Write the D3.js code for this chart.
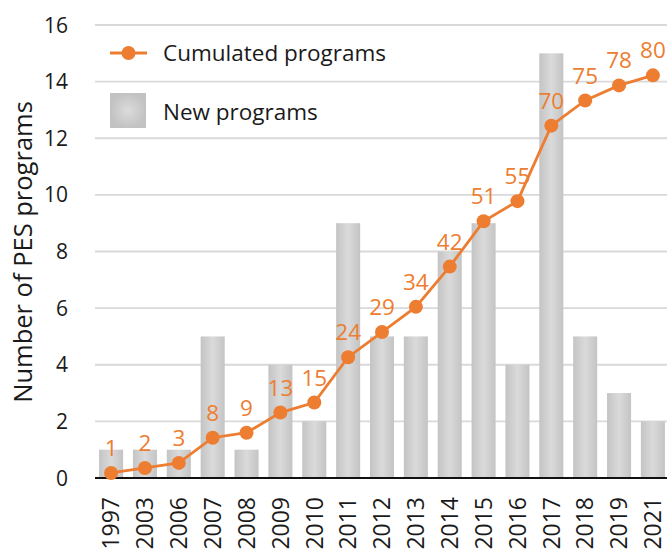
<!DOCTYPE html>
<html>
<head>
<meta charset="utf-8">
<script src="https://cdn.jsdelivr.net/npm/d3@7"></script>
<style>
  body { margin: 0; background: #fff; }
  svg { display: block; font-family: "Open Sans", "Noto Sans", sans-serif; }
</style>
</head>
<body>
<div id="chart"></div>
<script>
// Years on the x axis
const years = ["1997", "2003", "2006", "2007", "2008", "2009", "2010", "2011", "2012",
  "2013", "2014", "2015", "2016", "2017", "2018", "2019", "2021"];
// New programs per year (bars)
const newPrograms = [1, 1, 1, 5, 1, 4, 2, 9, 5, 5, 8, 9, 4, 15, 5, 3, 2];
// Cumulated programs (line, labelled)
const cumulated = [1, 2, 3, 8, 9, 13, 15, 24, 29, 34, 42, 51, 55, 70, 75, 78, 80];
const yTicks = [0, 2, 4, 6, 8, 10, 12, 14, 16];

const width = 667, height = 552;
const margin = { top: 25, right: -2, bottom: 74, left: 95 };
const orange = "#ed7d31";

const svg = d3.select("#chart").append("svg")
  .attr("width", width)
  .attr("height", height);

// gradient for bars
const defs = svg.append("defs");
const grad = defs.append("linearGradient").attr("id", "barGrad")
  .attr("x1", "0%").attr("x2", "100%").attr("y1", "0%").attr("y2", "0%");
grad.append("stop").attr("offset", "0%").attr("stop-color", "#c4c4c4");
grad.append("stop").attr("offset", "50%").attr("stop-color", "#dadada");
grad.append("stop").attr("offset", "100%").attr("stop-color", "#c4c4c4");
const rgrad = defs.append("radialGradient").attr("id", "legGrad");
rgrad.append("stop").attr("offset", "0%").attr("stop-color", "#dcdcdc");
rgrad.append("stop").attr("offset", "100%").attr("stop-color", "#c2c2c2");

const x = d3.scaleBand()
  .domain(years)
  .range([margin.left, width - margin.right])
  .paddingInner(0.29)
  .paddingOuter(0.12);

const y = d3.scaleLinear().domain([0, 16]).range([height - margin.bottom, margin.top]);
// secondary (hidden) scale for the cumulated line
const y2 = d3.scaleLinear().domain([0, 90]).range(y.range());

// gridlines
svg.append("g")
  .selectAll("line")
  .data(yTicks.slice(1))
  .join("line")
  .attr("x1", margin.left).attr("x2", width)
  .attr("y1", d => y(d)).attr("y2", d => y(d))
  .attr("stroke", "#d9d9d9")
  .attr("stroke-width", 1.8);

// bars
svg.append("g")
  .selectAll("rect")
  .data(newPrograms)
  .join("rect")
  .attr("x", (d, i) => x(years[i]))
  .attr("y", d => y(d))
  .attr("width", x.bandwidth())
  .attr("height", d => y(0) - y(d))
  .attr("fill", "url(#barGrad)");

// x axis baseline
svg.append("line")
  .attr("x1", margin.left).attr("x2", width)
  .attr("y1", y(0)).attr("y2", y(0))
  .attr("stroke", "#111")
  .attr("stroke-width", 2);

// y tick labels
svg.append("g")
  .selectAll("text")
  .data(yTicks)
  .join("text")
  .attr("x", 68)
  .attr("y", d => y(d))
  .attr("dy", "0.36em")
  .attr("text-anchor", "end")
  .attr("font-size", 21)
  .attr("fill", "#1a1a1a")
  .text(d => d);

// x tick labels (rotated)
svg.append("g")
  .selectAll("text")
  .data(years)
  .join("text")
  .attr("transform", d => `translate(${x(d) + x.bandwidth() / 2},${y(0) + 19}) rotate(-90)`)
  .attr("dy", "0.36em")
  .attr("text-anchor", "end")
  .attr("font-size", 23)
  .attr("fill", "#1a1a1a")
  .text(d => d);

// y axis title
svg.append("text")
  .attr("transform", "translate(23,252) rotate(-90)")
  .attr("dy", "0.36em")
  .attr("text-anchor", "middle")
  .attr("font-size", 25.5)
  .attr("fill", "#1a1a1a")
  .text("Number of PES programs");

// cumulated line
const cx = (d, i) => x(years[i]) + x.bandwidth() / 2;
const line = d3.line().x(cx).y(d => y2(d));
svg.append("path")
  .datum(cumulated)
  .attr("d", line)
  .attr("fill", "none")
  .attr("stroke", orange)
  .attr("stroke-width", 2.8);

svg.append("g")
  .selectAll("circle")
  .data(cumulated)
  .join("circle")
  .attr("cx", cx)
  .attr("cy", d => y2(d))
  .attr("r", 7)
  .attr("fill", orange);

svg.append("g")
  .selectAll("text")
  .data(cumulated)
  .join("text")
  .attr("x", cx)
  .attr("y", d => y2(d) - 17)
  .attr("text-anchor", "middle")
  .attr("font-size", 22.5)
  .attr("fill", orange)
  .text(d => d);

// legend
const leg = svg.append("g");
leg.append("line")
  .attr("x1", 110).attr("x2", 147).attr("y1", 53).attr("y2", 53)
  .attr("stroke", orange).attr("stroke-width", 2.8);
leg.append("circle").attr("cx", 128.5).attr("cy", 53).attr("r", 7).attr("fill", orange);
leg.append("text")
  .attr("x", 163).attr("y", 53).attr("dy", "0.36em")
  .attr("font-size", 22.5).attr("fill", "#1a1a1a")
  .text("Cumulated programs");
leg.append("rect")
  .attr("x", 110).attr("y", 93).attr("width", 36).attr("height", 35)
  .attr("fill", "url(#legGrad)");
leg.append("text")
  .attr("x", 163).attr("y", 112).attr("dy", "0.36em")
  .attr("font-size", 22.5).attr("fill", "#1a1a1a")
  .text("New programs");
</script>
</body>
</html>
